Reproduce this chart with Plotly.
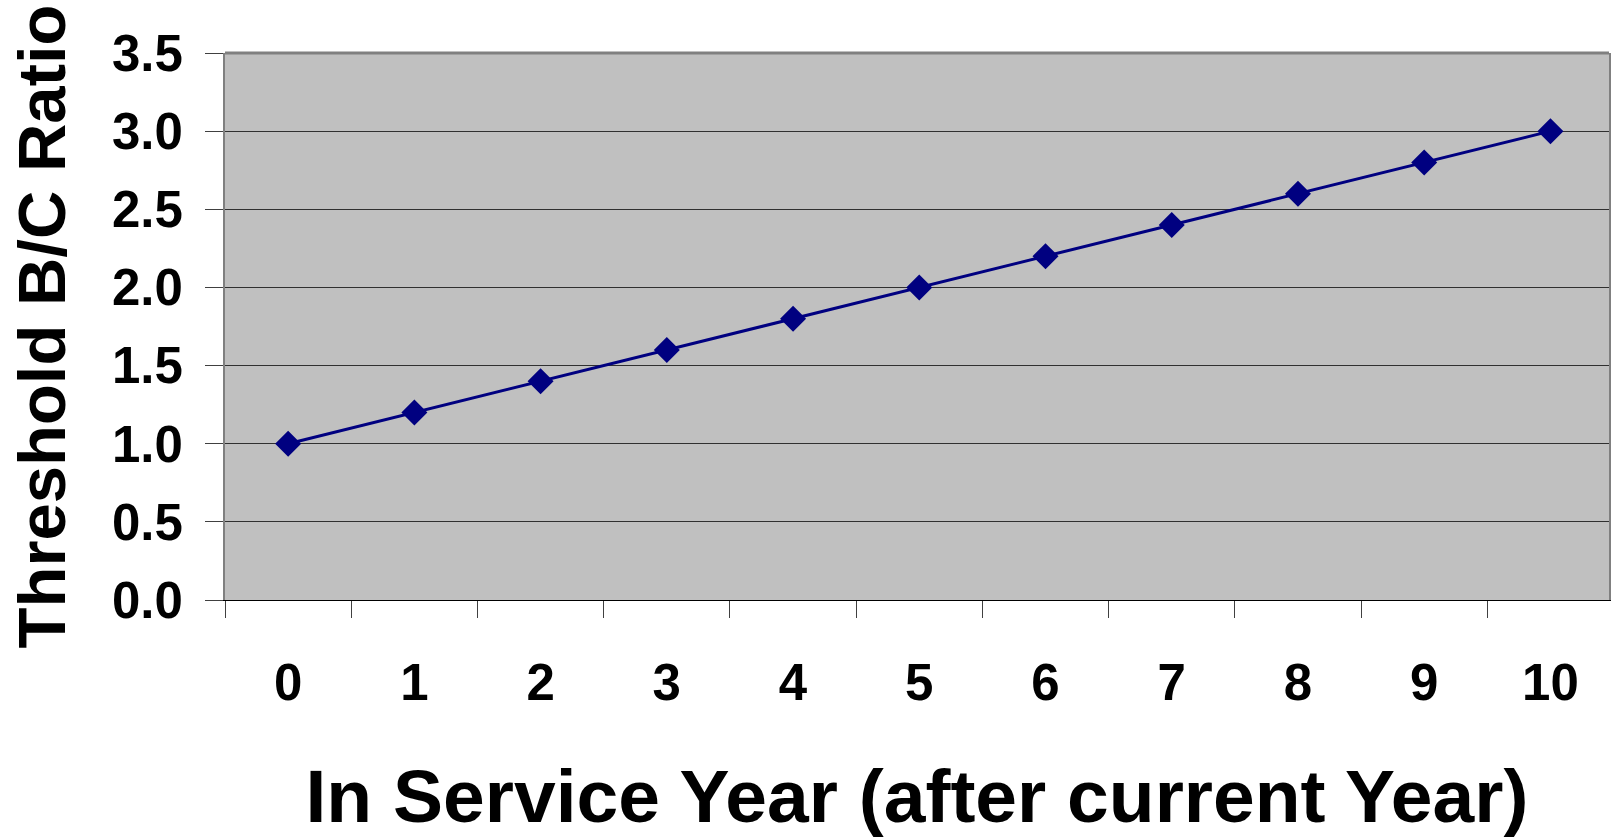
import plotly.graph_objects as go

years = ["0", "1", "2", "3", "4", "5", "6", "7", "8", "9", "10"]
ratios = [1.0, 1.2, 1.4, 1.6, 1.8, 2.0, 2.2, 2.4, 2.6, 2.8, 3.0]
y_ticks = [0.0, 0.5, 1.0, 1.5, 2.0, 2.5, 3.0, 3.5]
y_tick_text = ["0.0", "0.5", "1.0", "1.5", "2.0", "2.5", "3.0", "3.5"]

FONT = "Liberation Sans, Arial, sans-serif"

fig = go.Figure()
fig.add_trace(go.Scatter(
    x=years, y=ratios, mode="lines+markers",
    line=dict(color="#000080", width=3),
    marker=dict(symbol="diamond", size=20, color="#000080"),
    showlegend=False, hoverinfo="x+y",
))

fig.update_layout(
    width=1611, height=838,
    margin=dict(l=225, r=0, t=53, b=238),
    paper_bgcolor="white",
    plot_bgcolor="#C0C0C0",
    font=dict(family=FONT, color="black"),
    xaxis=dict(
        type="category",
        range=[-0.5, 10.464],
        tickson="boundaries",
        ticks="outside", ticklen=17, tickcolor="#404040", tickwidth=1,
        showgrid=False,
        showline=True, linecolor="black", linewidth=1,
        tickfont=dict(family=FONT, size=51, color="black", weight="bold"),
        ticklabelstandoff=38,
        title=dict(text="<b>In Service Year (after current Year)</b>",
                   font=dict(family=FONT, size=75, color="black"),
                   standoff=64),
        fixedrange=True,
    ),
    yaxis=dict(
        range=[0, 3.5],
        tickvals=y_ticks, ticktext=y_tick_text,
        ticks="outside", ticklen=18, tickcolor="#404040", tickwidth=1,
        showgrid=True, gridcolor="#303030", gridwidth=1,
        zeroline=False,
        showline=True, linecolor="#808080", linewidth=2, mirror=True,
        tickfont=dict(family=FONT, size=51, color="black", weight="bold"),
        ticklabelstandoff=12,
        title=dict(text="<b>Threshold B/C Ratio</b>",
                   font=dict(family=FONT, size=67, color="black"),
                   standoff=24),
        fixedrange=True,
    ),
    shapes=[dict(type="line", xref="paper", yref="paper", x0=0, x1=1, y0=1, y1=1,
                 line=dict(color="#808080", width=3))],
)

fig.write_html("out.html")
